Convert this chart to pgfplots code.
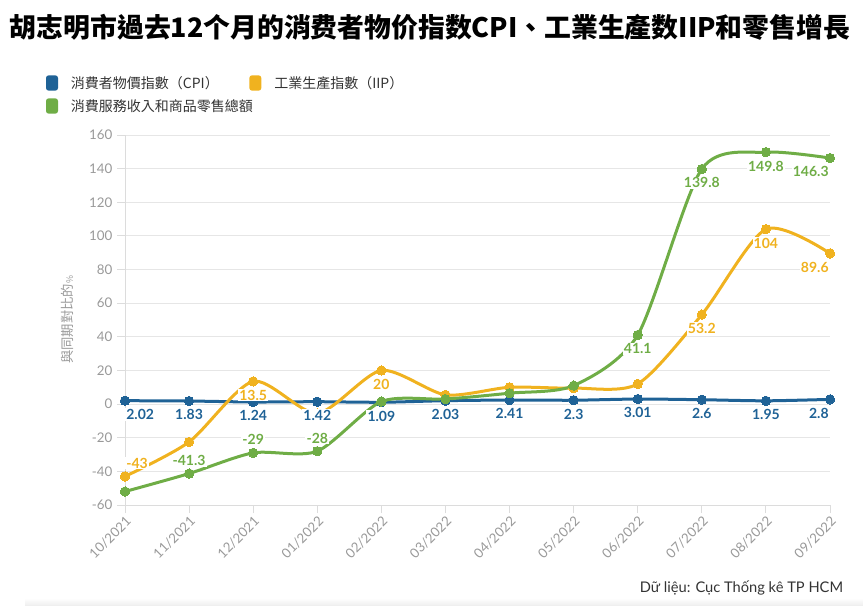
\documentclass[border=0pt]{standalone}
\usepackage{fontspec}
\usepackage{pgfplots}
\pgfplotsset{compat=1.18}
\setmainfont{Lato}
\newfontfamily\cjk{Noto Sans CJK TC}
\definecolor{cpi}{HTML}{1F6296}
\definecolor{iip}{HTML}{F0B21F}
\definecolor{rtl}{HTML}{6FAD46}
\definecolor{tickgray}{HTML}{999999}
\definecolor{gridgray}{HTML}{E6E6E6}
\definecolor{linegray}{HTML}{DCDCDC}
\definecolor{txt}{HTML}{333333}

\pgfplotstableread{
x y
0 2.02
1 1.83
2 1.24
3 1.42
4 1.09
5 2.03
6 2.41
7 2.3
8 3.01
9 2.6
10 1.95
11 2.8
}\cpidata
\pgfplotstableread{
x y
0 -43
1 -22.5
2 13.5
3 -5.5
4 20
5 5.5
6 10
7 9.5
8 12
9 53.2
10 104
11 89.6
}\iipdata
\pgfplotstableread{
x y
0 -52
1 -41.3
2 -29
3 -28
4 1.5
5 3
6 6.5
7 11
8 41.1
9 139.8
10 149.8
11 146.3
}\rtldata

\pgfplotsset{
  lbl/.style={draw=none, mark=none, point meta=explicit symbolic, nodes near coords,
    every node near coord/.append style={font=\bfseries\fontsize{10.5}{12}\selectfont,
      inner sep=0.8pt, fill=white, text=#1}},
  below/.style={every node near coord/.append style={anchor=north, yshift=-5.5pt}},
  belowL/.style={every node near coord/.append style={anchor=north west, yshift=-5.5pt}},
  belowR/.style={every node near coord/.append style={anchor=north east, yshift=-5.5pt}},
  above/.style={every node near coord/.append style={anchor=south, yshift=5pt}},
  aboveL/.style={every node near coord/.append style={anchor=south west, yshift=5pt}},
  ser/.style={#1, line width=2.25pt, smooth, tension=0.45, mark=*, mark size=3.5pt,
    mark options={solid, fill=#1, draw=#1, line width=0pt}},
}

\begin{document}
\begin{tikzpicture}
\path[use as bounding box] (0,0) rectangle (647.25pt,-454.5pt);
% title
\node[anchor=center] at (322.5pt,-20.5pt)
  {\resizebox{630pt}{!}{\cjk\bfseries\fontsize{20}{24}\selectfont 胡志明市過去12个月的消费者物价指数CPI、工業生產数IIP和零售增長}};
% legend
\fill[cpi, rounded corners=2pt] (34.5pt,-56.5pt) rectangle (43.5pt,-68pt);
\node[anchor=west, inner sep=0pt, text=txt, font=\cjk\fontsize{10.5}{12}\selectfont] at (53pt,-62.25pt) {消費者物價指數（CPI）};
\fill[iip, rounded corners=2pt] (187pt,-56.5pt) rectangle (196pt,-68pt);
\node[anchor=west, inner sep=0pt, text=txt, font=\cjk\fontsize{10.5}{12}\selectfont] at (205.5pt,-62.25pt) {工業生產指數（IIP）};
\fill[rtl, rounded corners=2pt] (34.5pt,-73.75pt) rectangle (43.5pt,-85.25pt);
\node[anchor=west, inner sep=0pt, text=txt, font=\cjk\fontsize{10.5}{12}\selectfont] at (53pt,-79.5pt) {消費服務收入和商品零售總額};
% footer
\shade[top color=white, bottom color=black!7] (18.75pt,-448.5pt) rectangle (647.25pt,-454.5pt);
\node[anchor=east, inner sep=0pt, text=txt, font=\fontsize{11}{13}\selectfont] at (632.5pt,-441pt) {Dữ liệu: Cục Thống kê TP HCM};

\begin{axis}[
  at={(93.75pt,-378.75pt)}, anchor=south west,
  scale only axis, width=528.75pt, height=277.5pt,
  xmin=0, xmax=11, ymin=-60, ymax=160,
  clip=false,
  axis lines=left, axis line style={-, draw=linegray, line width=0.75pt},
  xtick={0,...,11},
  xticklabels={10/2021,11/2021,12/2021,01/2022,02/2022,03/2022,04/2022,05/2022,06/2022,07/2022,08/2022,09/2022},
  ytick={-60,-40,...,160},
  ymajorgrids, major grid style={draw=gridgray, line width=0.75pt},
  tick align=outside, major tick length=6pt,
  tick style={draw=linegray, line width=0.75pt},
  /pgf/number format/assume math mode=true,
  tick label style={font=\fontsize{10}{12}\selectfont, text=tickgray},
  xticklabel style={rotate=45, anchor=north east, inner sep=1pt},
  ylabel={與同期對比的{\fontsize{6.5}{8}\selectfont\%}},
  ylabel style={at={(axis description cs:-0.081,0.5)}, anchor=center, text=tickgray, font=\cjk\fontsize{10}{12}\selectfont},
]
\addplot[ser=cpi] table {\cpidata};
\addplot[ser=iip] table {\iipdata};
\addplot[ser=rtl] table {\rtldata};
% labels CPI
\addplot[lbl=cpi, belowL] coordinates {(0,2.02)[2.02]};
\addplot[lbl=cpi, below] coordinates {(1,1.83)[1.83] (2,1.24)[1.24] (3,1.42)[1.42] (4,1.09)[1.09] (5,2.03)[2.03] (6,2.41)[2.41] (7,2.3)[2.3] (8,3.01)[3.01] (9,2.6)[2.6] (10,1.95)[1.95]};
\addplot[lbl=cpi, belowR] coordinates {(11,2.8)[2.8]};
% labels IIP
\addplot[lbl=iip, aboveL] coordinates {(0,-43)[-43]};
\addplot[lbl=iip, below] coordinates {(2,13.5)[13.5] (4,20)[20] (9,53.2)[53.2] (10,104)[104]};
\addplot[lbl=iip, belowR] coordinates {(11,89.6)[89.6]};
% labels retail
\addplot[lbl=rtl, above] coordinates {(1,-41.3)[-41.3] (2,-29)[-29] (3,-28)[-28]};
\addplot[lbl=rtl, below] coordinates {(8,41.1)[41.1] (9,139.8)[139.8] (10,149.8)[149.8]};
\addplot[lbl=rtl, belowR] coordinates {(11,146.3)[146.3]};
\end{axis}
\end{tikzpicture}
\end{document}
